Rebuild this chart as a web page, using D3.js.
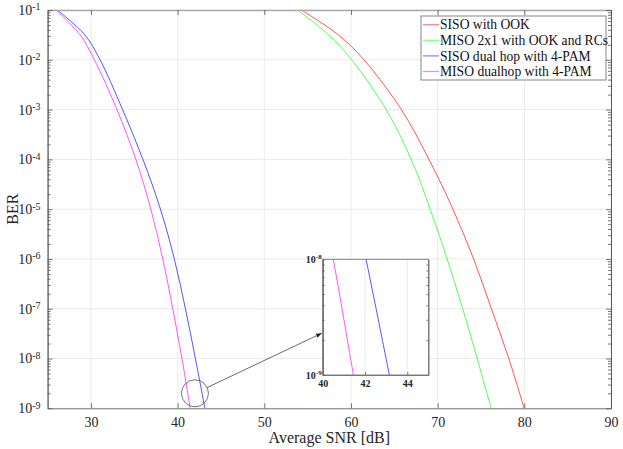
<!DOCTYPE html>
<html>
<head>
<meta charset="utf-8">
<script src="https://cdn.jsdelivr.net/npm/d3@7"></script>
<style>
  body { margin: 0; background: #fff; }
  svg { display: block; font-family: "Liberation Serif", "Times New Roman", serif; }
  .axis path, .axis line { stroke: #555; stroke-width: 0.8; }
  .axis text { fill: #262626; font-family: "Liberation Serif", serif; }
  .grid line { stroke: #e6e6e6; stroke-width: 0.8; }
</style>
</head>
<body>
<svg id="chart" width="623" height="449"></svg>
<script>
// BER-vs-SNR curves.
const berLevels = [1e-1, 3.16e-2, 1e-2, 1e-3, 1e-4, 1e-5, 1e-6, 1e-7, 1e-8, 1e-9];
const snrSisoOok = [54.28, 58.55, 61.5, 65.81, 69.0, 71.76, 74.15, 76.2, 78.21, 79.98];
const snrMisoOok = [53.86, 57.43, 60.08, 64.06, 66.95, 69.14, 71.1, 72.89, 74.56, 76.17];
const snrSisoPam = [26.12, 29.3, 31.05, 33.65, 36.0, 38.02, 39.62, 40.9, 42.05, 43.15];
const snrMisoPam = [25.97, 28.75, 30.4, 33.0, 35.18, 36.91, 38.29, 39.44, 40.5, 41.45];

const seriesNames = ["SISO with OOK", "MISO 2x1 with OOK and RCs", "SISO dual hop with 4-PAM", "MISO dualhop with 4-PAM"];
const seriesColors = ["#ff0000", "#00ff00", "#0000ff", "#ff00ff"];

const xTicks = [30, 40, 50, 60, 70, 80, 90];
const yExps = [-1, -2, -3, -4, -5, -6, -7, -8, -9];
const insetXTicks = [40, 42, 44];
const insetYExps = [-8, -9];

(function () {
  "use strict";

  const W = 623, H = 449;
  const m = { top: 10, right: 12, bottom: 40.7, left: 47.6 };
  const svg = d3.select("#chart");

  const x = d3.scaleLinear().domain([25, 90]).range([m.left, W - m.right]);
  const y = d3.scaleLog().domain([1e-9, 1e-1]).range([H - m.bottom, m.top]);

  const series = [snrSisoOok, snrMisoOok, snrSisoPam, snrMisoPam].map((snr, i) => ({
    name: seriesNames[i],
    color: seriesColors[i],
    points: snr.map((s, k) => ({ snr: s, ber: berLevels[k] })),
  }));

  const decades = yExps.map((e) => Math.pow(10, e));
  const minors = [];
  for (let e = -9; e < -1; e++) for (let k = 2; k <= 9; k++) minors.push(k * Math.pow(10, e));

  // "10" with a raised exponent
  function supLabels(sel, big, small, dy) {
    sel.each(function (d) {
      const t = d3.select(this).text(null).style("font-size", big);
      t.append("tspan").text("10");
      t.append("tspan").attr("dy", dy).style("font-size", small).text(Math.round(Math.log10(d)));
    });
  }

  // --- grid ---
  const grid = svg.append("g").attr("class", "grid");
  grid.selectAll("line.v").data(xTicks).enter().append("line")
    .attr("x1", (d) => x(d)).attr("x2", (d) => x(d))
    .attr("y1", y.range()[1]).attr("y2", y.range()[0]);
  grid.selectAll("line.h").data(decades).enter().append("line")
    .attr("y1", (d) => y(d)).attr("y2", (d) => y(d))
    .attr("x1", x.range()[0]).attr("x2", x.range()[1]);

  // --- curves ---
  svg.append("clipPath").attr("id", "plot-clip").append("rect")
    .attr("x", x.range()[0]).attr("y", y.range()[1])
    .attr("width", x.range()[1] - x.range()[0]).attr("height", y.range()[0] - y.range()[1]);

  const line = d3.line().x((d) => x(d.snr)).y((d) => y(d.ber)).curve(d3.curveCatmullRom.alpha(0.5));
  svg.append("g").attr("clip-path", "url(#plot-clip)")
    .selectAll("path").data(series).enter().append("path")
    .attr("fill", "none").attr("stroke", (d) => d.color).attr("stroke-width", 0.9)
    .attr("stroke-opacity", 0.75)
    .attr("d", (d) => line(d.points));

  // --- axes (MATLAB style, ticks inward, box on) ---
  svg.append("g").attr("class", "axis").attr("transform", `translate(0,${y.range()[0]})`)
    .call(d3.axisBottom(x).tickValues(xTicks).tickSize(-5).tickSizeOuter(0).tickPadding(9))
    .selectAll("text").style("font-size", "14px");
  svg.append("g").attr("class", "axis top").attr("transform", `translate(0,${y.range()[1]})`)
    .call(d3.axisTop(x).tickValues(xTicks).tickSize(-5).tickSizeOuter(0).tickFormat(""));

  const left = svg.append("g").attr("class", "axis").attr("transform", `translate(${x.range()[0]},0)`)
    .call(d3.axisLeft(y).tickValues(decades).tickSize(-5).tickSizeOuter(0).tickPadding(7));
  supLabels(left.selectAll(".tick text"), "14px", "10px", "-0.45em");
  svg.append("g").attr("class", "axis").attr("transform", `translate(${x.range()[0]},0)`)
    .call(d3.axisLeft(y).tickValues(minors).tickSize(-3).tickSizeOuter(0).tickFormat(""));
  svg.append("g").attr("class", "axis right").attr("transform", `translate(${x.range()[1]},0)`)
    .call(d3.axisRight(y).tickValues(decades).tickSize(-5).tickSizeOuter(0).tickFormat(""));
  svg.append("g").attr("class", "axis right").attr("transform", `translate(${x.range()[1]},0)`)
    .call(d3.axisRight(y).tickValues(minors).tickSize(-3).tickSizeOuter(0).tickFormat(""));
  svg.selectAll(".axis.top path, .axis.right path").attr("stroke", "#999");
  svg.selectAll(".axis.top path").style("stroke-width", 1.6).style("stroke", "#aaa");

  svg.append("text").attr("x", (x.range()[0] + x.range()[1]) / 2).attr("y", 443)
    .attr("text-anchor", "middle").attr("font-size", 16).attr("fill", "#262626").text("Average SNR [dB]");
  svg.append("text").attr("transform", `translate(18,${(y.range()[0] + y.range()[1]) / 2}) rotate(-90)`)
    .attr("text-anchor", "middle").attr("font-size", 16).attr("fill", "#262626").text("BER");

  // --- zoom marker + arrow ---
  const spot = { snr: 42, ber: 2e-9, r: 13.5 };
  const inset = { x: 322.7, y: 259.3, w: 105.8, h: 115.7 };
  const cx = x(spot.snr), cy = y(spot.ber);
  const tx = inset.x - 1, ty = inset.y + 74;
  const ang = Math.atan2(ty - cy, tx - cx);

  svg.append("defs").append("marker").attr("id", "arrow")
    .attr("viewBox", "0 0 10 10").attr("refX", 10).attr("refY", 5)
    .attr("markerWidth", 7).attr("markerHeight", 7).attr("orient", "auto")
    .append("path").attr("d", "M0,1 L10,5 L0,9 Z").attr("fill", "#222");

  svg.append("circle").attr("cx", cx).attr("cy", cy).attr("r", spot.r)
    .attr("fill", "none").attr("stroke", "#555").attr("stroke-width", 0.8);
  svg.append("line")
    .attr("x1", cx + spot.r * Math.cos(ang)).attr("y1", cy + spot.r * Math.sin(ang))
    .attr("x2", tx).attr("y2", ty)
    .attr("stroke", "#444").attr("stroke-width", 0.8).attr("marker-end", "url(#arrow)");

  // --- inset ---
  const g = svg.append("g").attr("transform", `translate(${inset.x},${inset.y})`);
  const xi = d3.scaleLinear().domain([40, 45]).range([0, inset.w]);
  const yi = d3.scaleLog().domain([1e-9, 1e-8]).range([inset.h, 0]);
  g.append("rect").attr("width", inset.w).attr("height", inset.h).attr("fill", "#fff");
  g.append("g").attr("class", "grid").selectAll("line").data(insetXTicks.slice(1)).enter().append("line")
    .attr("x1", (d) => xi(d)).attr("x2", (d) => xi(d)).attr("y1", 0).attr("y2", inset.h);

  g.append("clipPath").attr("id", "inset-clip").append("rect").attr("width", inset.w).attr("height", inset.h);
  const lineInset = d3.line().x((p) => xi(p.snr)).y((p) => yi(p.ber)).curve(d3.curveCatmullRom.alpha(0.5));
  g.append("g").attr("clip-path", "url(#inset-clip)")
    .selectAll("path").data(series).enter().append("path")
    .attr("fill", "none").attr("stroke", (d) => d.color).attr("stroke-width", 0.9)
    .attr("stroke-opacity", 0.75)
    .attr("d", (d) => lineInset(d.points));

  const insetMinor = d3.range(2, 10).map((k) => k * 1e-9);
  const insetDecades = insetYExps.map((e) => Math.pow(10, e));
  g.append("g").attr("class", "axis").attr("transform", `translate(0,${inset.h})`)
    .call(d3.axisBottom(xi).tickValues(insetXTicks).tickFormat(d3.format("d"))
      .tickSize(-3).tickSizeOuter(0).tickPadding(5))
    .selectAll("text").style("font-size", "10px").style("font-weight", "bold");
  const il = g.append("g").attr("class", "axis")
    .call(d3.axisLeft(yi).tickValues(insetDecades).tickSize(-3).tickSizeOuter(0).tickPadding(1));
  il.selectAll("text").style("font-weight", "bold");
  supLabels(il.selectAll(".tick text"), "10px", "7px", "-0.55em");
  g.append("g").attr("class", "axis")
    .call(d3.axisLeft(yi).tickValues(insetMinor).tickSize(-2).tickSizeOuter(0).tickFormat(""));
  g.append("g").attr("class", "axis").attr("transform", `translate(${inset.w},0)`)
    .call(d3.axisRight(yi).tickValues(insetMinor).tickSize(-2).tickSizeOuter(0).tickFormat(""));
  g.append("rect").attr("width", inset.w).attr("height", inset.h)
    .attr("fill", "none").attr("stroke", "#777").attr("stroke-width", 0.9);

  // --- legend ---
  const lg = svg.append("g").attr("transform", "translate(421,16)");
  lg.append("rect").attr("width", 185).attr("height", 64)
    .attr("fill", "#fff").attr("stroke", "#666").attr("stroke-width", 0.8);
  const row = lg.selectAll("g").data(series).enter().append("g")
    .attr("transform", (d, i) => `translate(0,${8.7 + i * 15.6})`);
  row.append("line").attr("x1", 2).attr("x2", 18).attr("y1", 0).attr("y2", 0)
    .attr("stroke", (d) => d.color).attr("stroke-opacity", 0.5).attr("stroke-width", 1.2);
  row.append("text").attr("x", 19).attr("dy", "0.35em").attr("font-size", 13.6)
    .attr("fill", "#111").text((d) => d.name);
})();
</script>
</body>
</html>
